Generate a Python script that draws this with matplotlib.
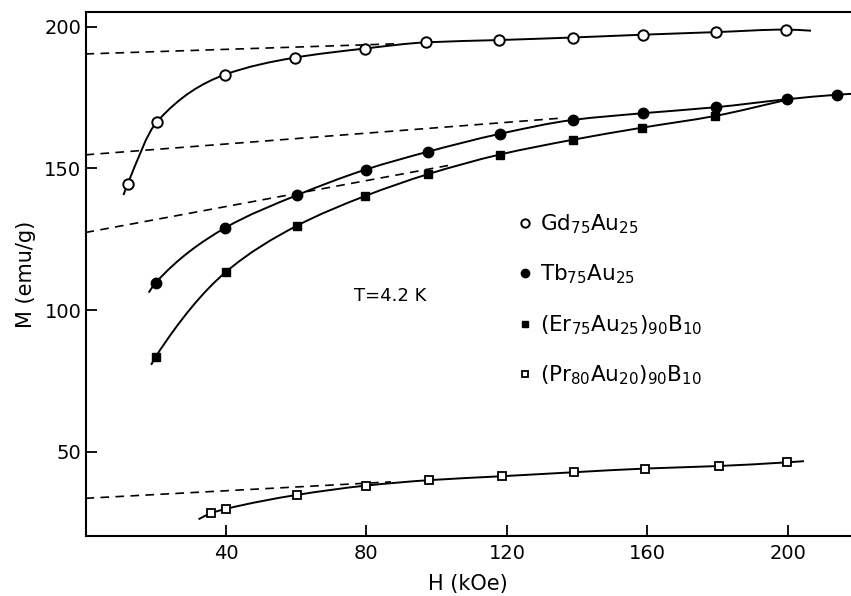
import matplotlib
matplotlib.use('Agg')
import matplotlib.pyplot as plt
from matplotlib.path import Path
from matplotlib.patches import PathPatch
import numpy as np

plt.rcParams['font.family'] = ['DejaVu Sans']
plt.rcParams['mathtext.default'] = 'regular'

# === values (H in kOe, M in emu/g) ===
gd_h = [12.0, 20.3, 39.7, 59.6, 79.5, 97.1, 117.7, 138.7, 158.9, 179.5, 199.5]
gd_m = [144.5, 166.4, 183.1, 189.1, 192.3, 194.5, 195.3, 196.2, 197.2, 198.1, 199.0]

tb_h = [20.0, 39.6, 60.1, 79.8, 97.5, 118.0, 138.7, 158.9, 179.5, 199.7, 213.9]
tb_m = [109.7, 128.9, 140.5, 149.6, 155.9, 162.2, 167.1, 169.5, 171.6, 174.4, 176.0]

er_h = [20.0, 40.1, 60.1, 79.7, 97.6, 118.0, 138.7, 158.6, 179.2]
er_m = [83.6, 113.6, 129.7, 140.3, 148.0, 154.9, 160.1, 164.4, 168.5]

pr_h = [35.6, 40.1, 60.2, 80.0, 97.8, 118.7, 139.1, 159.4, 180.4, 199.8]
pr_m = [28.3, 29.9, 34.8, 38.1, 40.0, 41.4, 42.8, 44.1, 45.0, 46.3]

# where the drawn curves begin and end beyond the outer points
gd_ends = [(10.8, 140.6), (206.6, 198.6)]
tb_ends = [(18.0, 106.2), (222.0, 176.6)]
er_ends = [(18.7, 80.7), (199.7, 174.2)]
pr_ends = [(32.2, 26.2), (204.6, 46.7)]

# dashed high-field extrapolations
gd_fit_h, gd_fit_m = [0, 89], [190.4, 194.0]
tb_fit_h, tb_fit_m = [0, 136], [154.8, 167.8]
er_fit_h, er_fit_m = [0, 104], [127.4, 151.2]
pr_fit_h, pr_fit_m = [0, 87], [33.6, 39.4]

labels = [r'Gd$_{75}$Au$_{25}$', r'Tb$_{75}$Au$_{25}$',
          r'(Er$_{75}$Au$_{25}$)$_{90}$B$_{10}$', r'(Pr$_{80}$Au$_{20}$)$_{90}$B$_{10}$']

x_ticks = [40, 80, 120, 160, 200]
y_ticks = [50, 100, 150, 200]


def smooth_curve(hs, ms, ends):
    # monotone cubic (pchip-like) in H through the points, drawn as a bezier path
    x = np.array([ends[0][0]] + list(hs) + [ends[1][0]], dtype=float)
    y = np.array([ends[0][1]] + list(ms) + [ends[1][1]], dtype=float)
    dx = np.diff(x)
    sec = np.diff(y) / dx
    d = np.empty_like(x)
    d[0], d[-1] = sec[0], sec[-1]
    for i in range(1, len(x) - 1):
        h0, h1 = dx[i - 1], dx[i]
        s0, s1 = sec[i - 1], sec[i]
        if s0 * s1 <= 0:
            d[i] = 0.0
        else:
            w1, w2 = 2 * h1 + h0, h1 + 2 * h0
            d[i] = (w1 + w2) / (w1 / s0 + w2 / s1)
    verts = [(x[0], y[0])]
    codes = [Path.MOVETO]
    for i in range(len(x) - 1):
        h = dx[i] / 3.0
        verts += [(x[i] + h, y[i] + d[i] * h), (x[i + 1] - h, y[i + 1] - d[i + 1] * h),
                  (x[i + 1], y[i + 1])]
        codes += [Path.CURVE4] * 3
    return Path(verts, codes)


fig = plt.figure(figsize=(8.51, 5.96), dpi=100)
ax = fig.add_axes([85.5 / 851, 1 - 536 / 596, 1 - 85.5 / 851, (536 - 12) / 596])

series = [
    (gd_h, gd_m, gd_ends, dict(marker='o', ms=7.5, mfc='white', mec='black', mew=1.4)),
    (tb_h, tb_m, tb_ends, dict(marker='o', ms=7.5, mfc='black', mec='black', mew=1.0)),
    (er_h, er_m, er_ends, dict(marker='s', ms=5.8, mfc='black', mec='black', mew=1.0)),
    (pr_h, pr_m, pr_ends, dict(marker='s', ms=5.8, mfc='white', mec='black', mew=1.3)),
]
fits = [(gd_fit_h, gd_fit_m), (tb_fit_h, tb_fit_m), (er_fit_h, er_fit_m), (pr_fit_h, pr_fit_m)]

for fh, fm in fits:
    ax.plot(fh, fm, color='black', lw=1.2, dashes=(5.2, 3.8))

handles = []
for (hs, ms, ends, style), lab in zip(series, labels):
    ax.add_patch(PathPatch(smooth_curve(hs, ms, ends), fill=False, lw=1.4,
                           edgecolor='black', zorder=2))
    h, = ax.plot(hs, ms, ls='none', zorder=3, label=lab, **style)
    handles.append(h)

ax.set_xlim(0, 218)
ax.set_ylim(20.3, 205.2)
ax.set_xticks(x_ticks)
ax.set_yticks(y_ticks)
ax.tick_params(direction='in', length=8, width=1.3, labelsize=14)
ax.tick_params(axis='y', pad=3)
ax.tick_params(axis='x', pad=6)
ax.spines['right'].set_visible(False)
for s in ['left', 'top', 'bottom']:
    ax.spines[s].set_linewidth(1.5)

ax.set_xlabel('H (kOe)', fontsize=15, labelpad=8)
ax.set_ylabel('M (emu/g)', fontsize=15, labelpad=6)

ax.text(86.7, 105.0, 'T=4.2 K', fontsize=13, ha='center', va='center')

ax.legend(handles=handles, loc='upper left', bbox_to_anchor=(0.54, 0.655),
          frameon=False, fontsize=15.5, markerscale=0.8, handlelength=0.6,
          handletextpad=0.4, labelspacing=1.25)

plt.savefig('out.png', dpi=100)
